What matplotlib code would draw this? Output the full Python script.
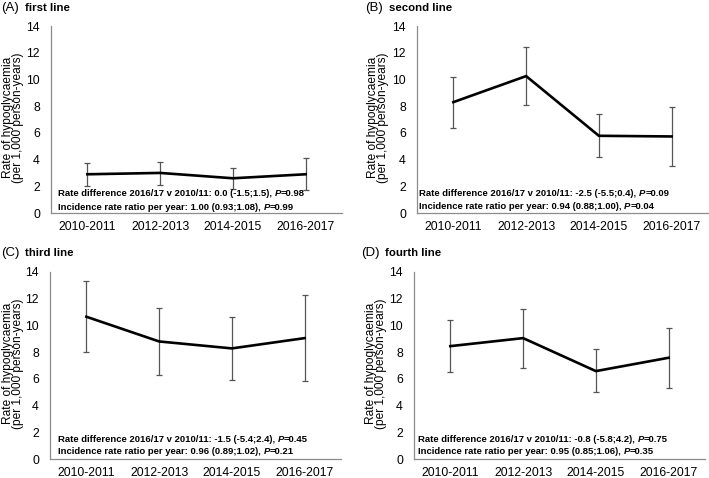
import matplotlib
matplotlib.use("Agg")
import matplotlib.pyplot as plt

plt.rcParams['font.family'] = ['Liberation Sans', 'DejaVu Sans']

periods = ["2010-2011", "2012-2013", "2014-2015", "2016-2017"]
yticks = [0, 2, 4, 6, 8, 10, 12, 14]

panel_letters = ["(A)", "(B)", "(C)", "(D)"]
panel_names = ["first line", "second line", "third line", "fourth line"]
ylabel_text = "Rate of hypoglycaemia\n(per 1,000 person-years)"

rate_first = [2.9, 3.0, 2.6, 2.9]
low_first = [2.05, 2.1, 1.8, 1.75]
high_first = [3.75, 3.8, 3.35, 4.1]

rate_second = [8.3, 10.25, 5.78, 5.73]
low_second = [6.4, 8.07, 4.16, 3.49]
high_second = [10.15, 12.45, 7.42, 7.97]

rate_third = [10.65, 8.8, 8.28, 9.05]
low_third = [7.98, 6.28, 5.95, 5.83]
high_third = [13.35, 11.3, 10.6, 12.28]

rate_fourth = [8.45, 9.05, 6.58, 7.58]
low_fourth = [6.53, 6.8, 4.98, 5.3]
high_fourth = [10.38, 11.25, 8.23, 9.83]

stat_line1 = ["Rate difference 2016/17 v 2010/11: 0.0 (-1.5;1.5), ",
              "Rate difference 2016/17 v 2010/11: -2.5 (-5.5;0.4), ",
              "Rate difference 2016/17 v 2010/11: -1.5 (-5.4;2.4), ",
              "Rate difference 2016/17 v 2010/11: -0.8 (-5.8;4.2), "]
p_line1 = ["=0.98", "=0.09", "=0.45", "=0.75"]
stat_line2 = ["Incidence rate ratio per year: 1.00 (0.93;1.08), ",
              "Incidence rate ratio per year: 0.94 (0.88;1.00), ",
              "Incidence rate ratio per year: 0.96 (0.89;1.02), ",
              "Incidence rate ratio per year: 0.95 (0.85;1.06), "]
p_line2 = ["=0.99", "=0.04", "=0.21", "=0.35"]

rates = [rate_first, rate_second, rate_third, rate_fourth]
lows = [low_first, low_second, low_third, low_fourth]
highs = [high_first, high_second, high_third, high_fourth]

W, H = 709, 478
fig = plt.figure(figsize=(W / 100, H / 100), dpi=100)

# axes boxes in pixels: left, top, right, bottom
boxes = [(51, 26, 342, 213), (417, 26, 708, 213),
         (50, 272, 341, 459), (414, 272, 705, 459)]
title_pos = [(1, 8), (365, 8), (1, 253), (361, 253)]
stat_pos = [(58, 194), (419, 193), (58, 439), (418, 439)]
ylabel_x = [13, 378, 13, 376]

for i in range(4):
    l, t, r, b = boxes[i]
    ax = fig.add_axes([l / W, 1 - b / H, (r - l) / W, (b - t) / H])
    x = list(range(len(periods)))
    yerr = [[rates[i][k] - lows[i][k] for k in x],
            [highs[i][k] - rates[i][k] for k in x]]
    ax.errorbar(x, rates[i], yerr=yerr, fmt='none', ecolor='#555555',
                elinewidth=0.9, capsize=2.5, capthick=0.9, zorder=2)
    ax.plot(x, rates[i], color='black', lw=1.9, zorder=3)
    ax.set_xlim(-0.5, 3.5)
    ax.set_ylim(0, 14)
    ax.set_yticks(yticks)
    ax.set_xticks(x)
    ax.set_xticklabels(periods, fontsize=8.8)
    ax.tick_params(axis='y', labelsize=8.8, length=0, pad=8)
    ax.tick_params(axis='x', length=0, pad=6)
    for s in ['top', 'right']:
        ax.spines[s].set_visible(False)
    for s in ['left', 'bottom']:
        ax.spines[s].set_color('#8c8c8c')
        ax.spines[s].set_linewidth(0.9)

    fig.text(ylabel_x[i] / W, 1 - ((t + b) / 2 - 2) / H, ylabel_text,
             rotation=90, fontsize=8.6, linespacing=0.8,
             ha='center', va='center', multialignment='center')

    tx, ty = title_pos[i]
    fig.text(tx / W, 1 - ty / H, panel_letters[i], fontsize=9.5,
             va='center', ha='left')
    fig.text((tx + 24) / W, 1 - ty / H, panel_names[i], fontsize=8.2,
             fontweight='bold', va='center', ha='left')

    sx, sy = stat_pos[i]
    for j, (txt, pv) in enumerate([(stat_line1[i], p_line1[i]),
                                   (stat_line2[i], p_line2[i])]):
        yy = 1 - (sy + j * 13) / H
        a = fig.text(sx / W, yy, txt, fontsize=6.8, fontweight='bold',
                     va='center', ha='left')
        p = ax.annotate("P", xy=(1, 0), xycoords=a, va='bottom', ha='left',
                        fontsize=6.8, fontweight='bold', fontstyle='italic',
                        annotation_clip=False)
        ax.annotate(pv, xy=(1, 0), xycoords=p, va='bottom', ha='left',
                    fontsize=6.8, fontweight='bold', annotation_clip=False)

fig.savefig("out.png", dpi=100)
